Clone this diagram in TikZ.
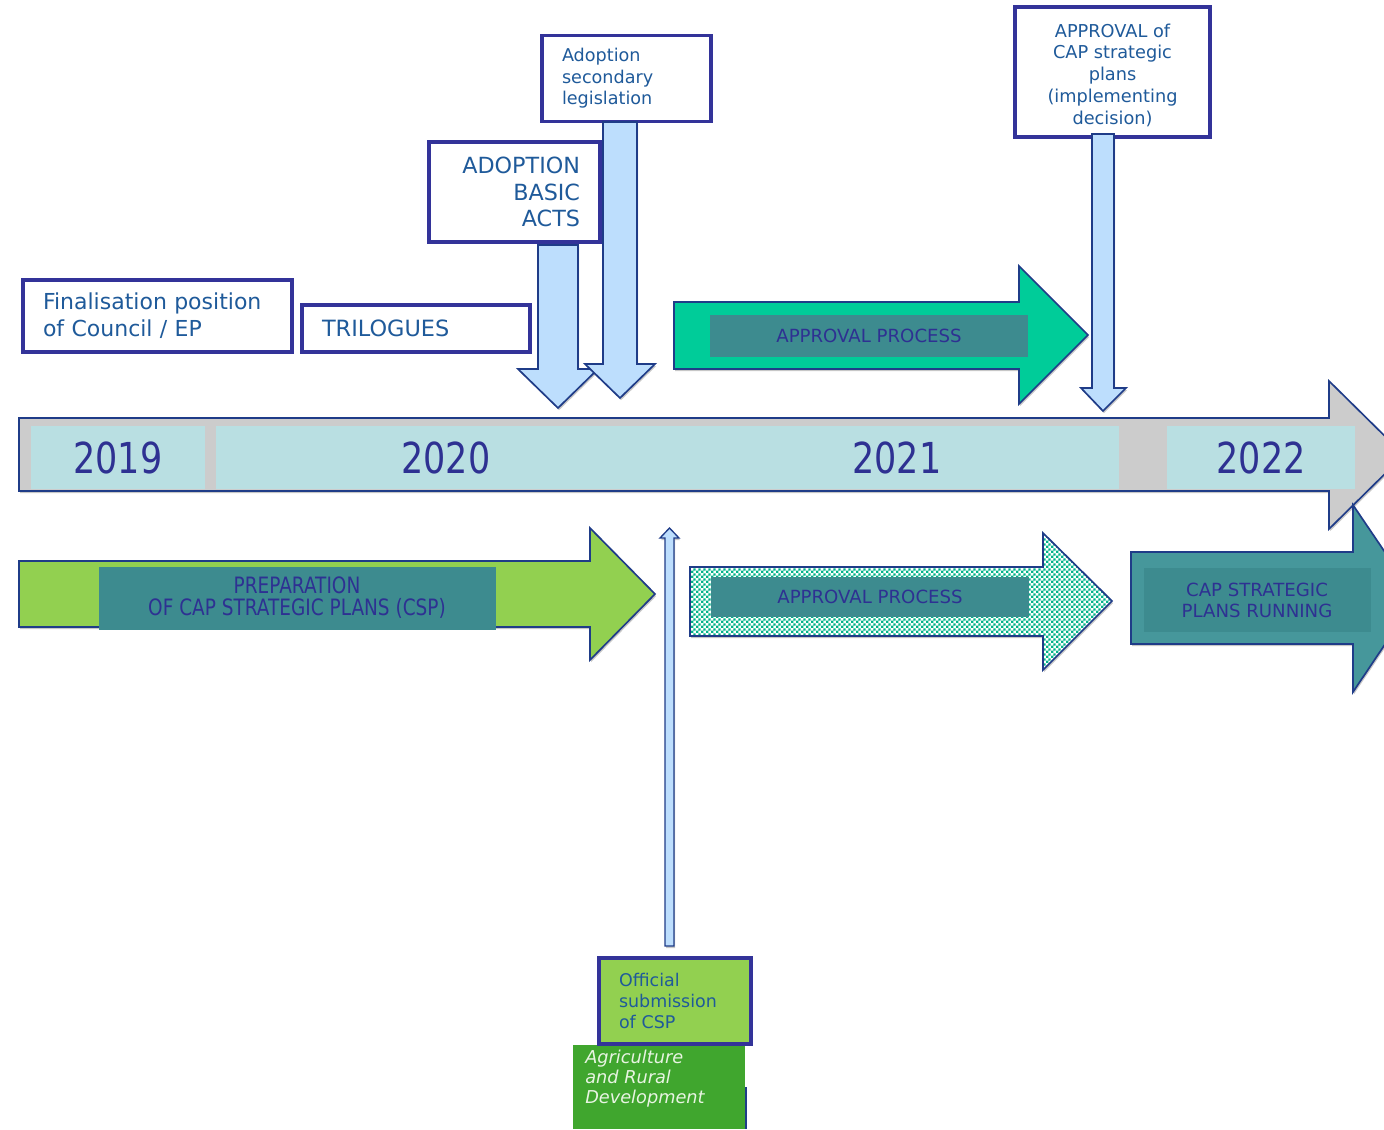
\documentclass[tikz,border=0pt]{standalone}
\usepackage{fontspec}
\setmainfont{DejaVu Sans}
\newfontfamily\condfont[FakeStretch=0.82]{DejaVu Sans}
\usetikzlibrary{patterns.meta,shadows}
\definecolor{arrline}{HTML}{1F3C88}
\definecolor{dnblue}{HTML}{BDDEFD}
\definecolor{tlgray}{HTML}{CCCCCC}
\definecolor{tlblue}{HTML}{B9DFE2}
\definecolor{apgreen}{HTML}{00CC99}
\definecolor{tealin}{HTML}{3D8B8F}
\definecolor{prepgreen}{HTML}{92D050}
\definecolor{capteal}{HTML}{46979B}
\definecolor{checkc}{HTML}{00B388}
\definecolor{boxline}{HTML}{333399}
\definecolor{boxtext}{HTML}{1F5A9A}
\definecolor{lbltext}{HTML}{2E3192}
\definecolor{agrigreen}{HTML}{40A62E}
\definecolor{agritext}{HTML}{E8F4E2}
\tikzdeclarepattern{
  name=finecheck,
  type=uncolored,
  bounding box={(0pt,0pt) and (3.6pt,3.6pt)},
  tile size={(3.6pt,3.6pt)},
  code={
    \pgfpathrectangle{\pgfpointorigin}{\pgfqpoint{1.8pt}{1.8pt}}
    \pgfpathrectangle{\pgfqpoint{1.8pt}{1.8pt}}{\pgfqpoint{1.8pt}{1.8pt}}
    \pgfusepath{fill}
  }
}
\begin{document}
\begin{tikzpicture}[x=0.75pt,y=-0.75pt,
  blockarrow/.style={draw=arrline, line width=1.25pt, line join=miter,
    drop shadow={shadow xshift=0.8pt, shadow yshift=-1.6pt, opacity=0.22, fill=black}},
  textbox/.style={draw=boxline, line width=2.9pt, fill=white, text=boxtext,
    inner xsep=15pt, inner ysep=2pt, outer sep=0pt},
  yearlbl/.style={text=lbltext, font=\condfont\fontsize{32}{36}\selectfont, inner sep=0pt},
  arrlbl/.style={text=lbltext, font=\fontsize{13.6}{15.8}\selectfont, inner sep=0pt, align=center}
]
\useasboundingbox (0,0) rectangle (1384,1129);
\clip (0,0) rectangle (1384,1129);
\fill[white] (0,0) rectangle (1384,1129);

% ---------- timeline ----------
\draw[blockarrow, fill=tlgray] (19,418) -- (1329,418) -- (1329,381) -- (1404,455) -- (1329,529) -- (1329,491) -- (19,491) -- cycle;
\fill[tlblue] (31,426) rectangle (205,489);
\fill[tlblue] (216,426) rectangle (1119,489);
\fill[tlblue] (1167,426) rectangle (1355,489);
\node[yearlbl] (y2019) at (118,458) {2019};
\node[yearlbl] (y2020) at (446,458) {2020};
\node[yearlbl] (y2021) at (897,458) {2021};
\node[yearlbl] (y2022) at (1261,458) {2022};

% ---------- upper text boxes ----------
\node[textbox, text width=171.75pt, minimum height=54pt, align=left,
  font=\fontsize{16.5}{20.2}\selectfont] (final) at (157.5,316)
  {Finalisation position\\of Council / EP};
\node[textbox, text width=141pt, minimum height=35.25pt, align=left,
  font=\fontsize{16.8}{20}\selectfont] (tri) at (416,328.5) {TRILOGUES};
\node[textbox, text width=98.25pt, minimum height=75pt, align=right,
  font=\fontsize{16.7}{19.9}\selectfont] (basic) at (514.5,192)
  {ADOPTION\\BASIC\\ACTS};
\node[textbox, text width=96.75pt, minimum height=64.5pt, align=left,
  font=\fontsize{13.2}{16.1}\selectfont] (second) at (626.5,78.5)
  {Adoption\\secondary\\legislation};
\node[textbox, inner sep=0pt, minimum width=146.25pt, minimum height=97.5pt] (apprdec) at (1112.5,72) {};
\node[text=boxtext, inner sep=0pt, align=center,
  font=\fontsize{13.3}{16.3}\selectfont] (apprtxt) at (1112.5,75)
  {APPROVAL of\\CAP strategic\\plans\\(implementing\\decision)};

% ---------- green approval arrow ----------
\draw[blockarrow, fill=apgreen] (674,302) -- (1019,302) -- (1019,266) -- (1088,335) -- (1019,404) -- (1019,369) -- (674,369) -- cycle;
\fill[tealin] (710,315) rectangle (1028,357);
\node[arrlbl] (ap1) at (869,336) {APPROVAL PROCESS};

% ---------- down arrows ----------
\draw[blockarrow, fill=dnblue] (538,245) -- (578,245) -- (578,369) -- (598,369) -- (558,408) -- (518,369) -- (538,369) -- cycle;
\draw[blockarrow, fill=dnblue] (603,122) -- (637,122) -- (637,364) -- (655,364) -- (620,398) -- (585,364) -- (603,364) -- cycle;
\draw[blockarrow, fill=dnblue] (1092,134) -- (1114,134) -- (1114,388) -- (1126,388) -- (1103,411) -- (1081,388) -- (1092,388) -- cycle;

% ---------- preparation arrow ----------
\draw[blockarrow, fill=prepgreen] (19,561) -- (590,561) -- (590,528) -- (655,594) -- (590,660) -- (590,627) -- (19,627) -- cycle;
\fill[tealin] (99,567) rectangle (496,630);
\node[arrlbl, font=\condfont\fontsize{16.9}{16.5}\selectfont] (prep) at (297,598)
  {PREPARATION\\OF CAP STRATEGIC PLANS (CSP)};

% ---------- thin up arrow ----------
\draw[blockarrow, line width=1pt, fill=dnblue] (665,946) -- (665,538) -- (660,538) -- (669.5,528) -- (679,538) -- (674,538) -- (674,946) -- cycle;

% ---------- dotted approval arrow ----------
\draw[blockarrow, preaction={fill=white}, pattern=finecheck, pattern color=checkc]
  (690,567) -- (1043,567) -- (1043,533) -- (1112,601) -- (1043,670) -- (1043,636) -- (690,636) -- cycle;
\fill[tealin] (711,577) rectangle (1029,617);
\node[arrlbl] (ap2) at (870,597) {APPROVAL PROCESS};

% ---------- CAP running arrow ----------
\draw[blockarrow, fill=capteal] (1131,552) -- (1353,552) -- (1353,505) -- (1416,598) -- (1353,692) -- (1353,644) -- (1131,644) -- cycle;
\fill[tealin] (1144,568) rectangle (1371,632);
\node[arrlbl] (run) at (1257,600) {CAP STRATEGIC\\PLANS RUNNING};

% ---------- bottom boxes ----------
\draw[arrline, line width=1.6pt] (746,1087) -- (746,1129);
\fill[agrigreen] (573,1045) rectangle (745,1129);
\node[anchor=north west, inner sep=0pt, text=agritext, align=left,
  font=\itshape\fontsize{13.3}{15}\selectfont] (agri) at (585,1050)
  {Agriculture\\and Rural\\Development};
\node[textbox, fill=prepgreen, text width=84pt, minimum height=64.5pt, align=left,
  font=\fontsize{13.1}{15.8}\selectfont] (official) at (675,1001)
  {Official\\submission\\of CSP};
\end{tikzpicture}
\end{document}
